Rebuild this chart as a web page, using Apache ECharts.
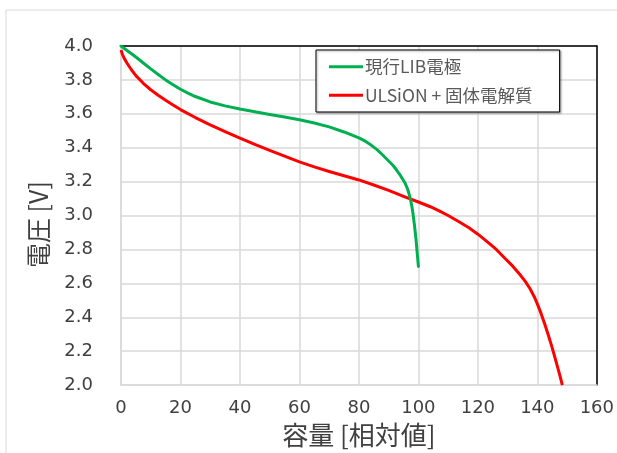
<!DOCTYPE html>
<html><head><meta charset="utf-8">
<script src="https://cdn.jsdelivr.net/npm/echarts@6/dist/echarts.min.js"></script>
<style>html,body{margin:0;padding:0;background:#fff}#c{width:617px;height:453px}</style>
</head><body><div id="c"></div>
<script>
const seriesNames = ['現行LIB電極', 'ULSiON + 固体電解質'];
const greenData = [[0,4.0],[2.5,3.968],[5,3.935],[7.5,3.9],[10,3.865],[12.5,3.832],[15,3.8],[17.5,3.771],[20,3.745],[22.5,3.722],[25,3.702],[30,3.67],[35,3.647],[40,3.628],[45,3.612],[50,3.596],[55,3.581],[60,3.565],[65,3.546],[70,3.523],[75,3.493],[80,3.458],[82,3.44],[84,3.417],[86,3.39],[88,3.357],[90,3.322],[91.5,3.295],[92.6,3.27],[94,3.235],[95.4,3.195],[96,3.172],[96.4,3.155],[97.3,3.1],[97.8,3.055],[98.2,3.01],[98.7,2.94],[99.2,2.86],[99.6,2.78],[100,2.7]];
const redData = [[0,3.976],[0.5,3.95],[1,3.93],[2,3.9],[3.5,3.86],[5,3.825],[7.5,3.78],[10,3.742],[12.5,3.71],[15,3.68],[17.5,3.652],[20,3.625],[25,3.578],[30,3.535],[35,3.495],[40,3.457],[45,3.42],[50,3.385],[55,3.35],[60,3.317],[65,3.287],[70,3.26],[75,3.235],[80,3.21],[85,3.18],[90,3.148],[95,3.113],[100,3.08],[104,3.052],[107,3.028],[110,3.0],[113.8,2.962],[117,2.928],[120,2.89],[123,2.848],[126.2,2.8],[129,2.75],[131.8,2.7],[134,2.655],[136,2.61],[137.5,2.57],[139,2.52],[140.2,2.47],[141.3,2.42],[142.4,2.365],[143.6,2.3],[144.7,2.237],[145.8,2.17],[146.9,2.1],[147.7,2.048],[148.4,2.0]];
const xTicks = {min:0, max:160, interval:20};
const yTicks = {min:2.0, max:4.0, interval:0.2};
const FONT = '"DejaVu Sans", Verdana, sans-serif';
const JFONT = '"Noto Sans CJK JP", sans-serif';

const chart = echarts.init(document.getElementById('c'), null, {renderer:'canvas'});
chart.setOption({
  animation:false,
  backgroundColor:'#fff',
  graphic:[{type:'rect', shape:{x:6,y:10,width:640,height:460}, style:{fill:'none', stroke:'#d9d9d9', lineWidth:1}, z:0}],
  grid:{left:121, top:46, width:476, height:341, show:false},
  legend:{
    orient:'vertical', left:316, top:50,
    data:seriesNames,
    backgroundColor:'#fff', borderColor:'#000', borderWidth:1,
    padding:[8,27,8,13], itemGap:11, itemWidth:34, itemHeight:3,
    shadowColor:'rgba(0,0,0,0.35)', shadowBlur:2, shadowOffsetX:1, shadowOffsetY:1,
    icon:'rect',
    textStyle:{color:'#595959', fontSize:17.5, fontFamily:JFONT, padding:[0,0,0,-3]}
  },
  xAxis:[{type:'value', min:xTicks.min, max:xTicks.max, interval:xTicks.interval,
    name:'容量 [相対値]', nameLocation:'middle', nameGap:34,
    nameTextStyle:{color:'#404040', fontSize:26, fontFamily:JFONT},
    axisLine:{show:true, onZero:false, lineStyle:{color:'#d9d9d9', width:1.5}},
    axisTick:{show:false},
    axisLabel:{color:'#404040', fontSize:18, margin:14, fontFamily:FONT},
    splitLine:{show:true, lineStyle:{color:'#d9d9d9', width:1.5}}
  },{type:'value', position:'top', min:xTicks.min, max:xTicks.max, interval:xTicks.interval,
    axisLine:{show:true, onZero:false, lineStyle:{color:'#000', width:1.5}}, axisTick:{show:false}, axisLabel:{show:false}, splitLine:{show:false}}],
  yAxis:[{type:'value', min:yTicks.min, max:yTicks.max, interval:yTicks.interval,
    name:'電圧 [V]', nameLocation:'middle', nameGap:70, nameRotate:90,
    nameTextStyle:{color:'#404040', fontSize:25, fontFamily:JFONT, padding:[0,0,0,-18]},
    axisLine:{show:true, onZero:false, lineStyle:{color:'#d9d9d9', width:1.5}},
    axisTick:{show:false},
    axisLabel:{color:'#404040', fontSize:18, margin:28, formatter:v=>v.toFixed(1), fontFamily:FONT},
    splitLine:{show:true, lineStyle:{color:'#d9d9d9', width:1.5}}
  },{type:'value', position:'right', min:yTicks.min, max:yTicks.max, interval:yTicks.interval,
    axisLine:{show:true, onZero:false, lineStyle:{color:'#000', width:1.5}}, axisTick:{show:false}, axisLabel:{show:false}, splitLine:{show:false}}],
  series:[
    {name:seriesNames[0], type:'line', data:greenData, smooth:false, showSymbol:false, lineStyle:{color:'#00b050', width:3, join:'round', cap:'round'}, itemStyle:{color:'#00b050'}, z:3},
    {name:seriesNames[1], type:'line', data:redData, smooth:false, showSymbol:false, lineStyle:{color:'#ff0000', width:3, join:'round', cap:'butt'}, itemStyle:{color:'#ff0000'}, z:2}
  ]
});
</script></body></html>
